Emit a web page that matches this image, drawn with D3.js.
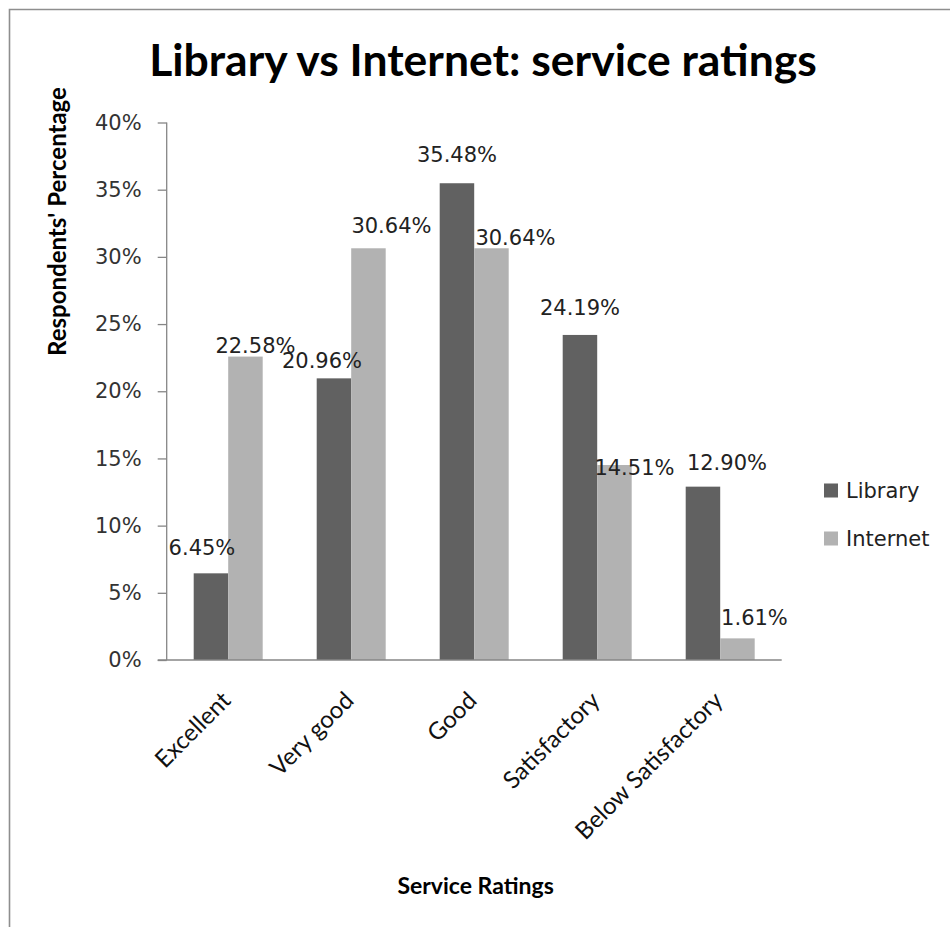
<!DOCTYPE html>
<html>
<head>
<meta charset="utf-8">
<script src="https://cdn.jsdelivr.net/npm/d3@7"></script>
<style>
  html, body { margin: 0; padding: 0; background: #fff; }
  svg { display: block; }
</style>
</head>
<body>
<svg id="chart" width="950" height="927"></svg>
<script>
// Service ratings: share of respondents per rating, library vs internet
const categories = ["Excellent", "Very good", "Good", "Satisfactory", "Below Satisfactory"];
const seriesNames = ["Library", "Internet"];
const libraryValues = [6.45, 20.96, 35.48, 24.19, 12.90];
const internetValues = [22.58, 30.64, 30.64, 14.51, 1.61];
const yTicks = [0, 5, 10, 15, 20, 25, 30, 35, 40];

// Hand-placed data-label nudges (px) relative to the top-centre of each bar
const libraryLabelNudge = [[-9, -18], [-12, -10], [0, -21], [0, -20], [24, -17]];
const internetLabelNudge = [[10, -4], [23, -15], [24, -3], [20, 10], [17, -13]];

const colors = { Library: "#616161", Internet: "#b2b2b2" };
const numFont = "'DejaVu Sans', Verdana, sans-serif";
const titleFont = "Lato, 'Open Sans', sans-serif";

const svg = d3.select("#chart");

// Outer frame (top and left edges visible)
svg.append("path")
  .attr("d", "M9.5,927 L9.5,9.5 L950,9.5")
  .attr("fill", "none")
  .attr("stroke", "#8e8e8e")
  .attr("stroke-width", 1.6);

const plot = { left: 166.7, right: 781.7, top: 122.5, bottom: 660 };

const x0 = d3.scaleBand().domain(categories).range([plot.left, plot.right]).padding(0);
const groupWidth = 69;
const x1 = d3.scaleBand().domain(seriesNames).range([0, groupWidth]).padding(0);
const y = d3.scaleLinear().domain([0, 40]).range([plot.bottom, plot.top]);

const rows = categories.map((c, i) => ({
  category: c,
  values: [
    { series: "Library", value: libraryValues[i], nudge: libraryLabelNudge[i] },
    { series: "Internet", value: internetValues[i], nudge: internetLabelNudge[i] }
  ]
}));

const groupX = c => x0(c) + (x0.bandwidth() - groupWidth) / 2;

// Bars
const groups = svg.append("g").selectAll("g")
  .data(rows).join("g")
  .attr("transform", d => `translate(${groupX(d.category)},0)`);

groups.selectAll("rect")
  .data(d => d.values).join("rect")
  .attr("x", d => x1(d.series))
  .attr("y", d => y(d.value))
  .attr("width", x1.bandwidth())
  .attr("height", d => y(0) - y(d.value))
  .attr("fill", d => colors[d.series]);

// Data labels
groups.selectAll("text")
  .data(d => d.values).join("text")
  .attr("x", d => x1(d.series) + x1.bandwidth() / 2 + d.nudge[0])
  .attr("y", d => y(d.value) + d.nudge[1])
  .attr("text-anchor", "middle")
  .attr("font-family", numFont)
  .attr("font-size", 21)
  .attr("fill", "#222")
  .text(d => d.value.toFixed(2) + "%");

// Y axis
const yAxis = d3.axisLeft(y)
  .tickValues(yTicks)
  .tickSize(9)
  .tickPadding(16)
  .tickFormat(d => d + "%");

const yg = svg.append("g")
  .attr("transform", `translate(${plot.left},0)`)
  .call(yAxis);
yg.select(".domain").attr("stroke", "#868686").attr("stroke-width", 1.3)
  .attr("d", `M0,${plot.top}V${plot.bottom}`);
yg.selectAll(".tick line").attr("stroke", "#868686").attr("stroke-width", 1.3);
yg.selectAll(".tick text")
  .attr("font-family", numFont)
  .attr("font-size", 21)
  .attr("fill", "#333");

// X axis
const xAxis = d3.axisBottom(x0).tickSize(0).tickFormat("");
const xg = svg.append("g")
  .attr("transform", `translate(0,${plot.bottom})`)
  .call(xAxis);
xg.select(".domain").attr("stroke", "#868686").attr("stroke-width", 1.3)
  .attr("d", `M${plot.left - 9},0H${plot.right}`);

// Rotated category labels
svg.append("g").selectAll("text")
  .data(categories).join("text")
  .attr("transform", c => `translate(${x0(c) + x0.bandwidth() / 2 + 4},${plot.bottom + 42}) rotate(-45)`)
  .attr("text-anchor", "end")
  .attr("font-family", titleFont)
  .attr("font-size", 24)
  .attr("fill", "#111")
  .text(c => c);

// Chart title, sized to span its slot across the top
const title = svg.append("text")
  .attr("x", 483)
  .attr("y", 76)
  .attr("text-anchor", "middle")
  .attr("font-family", titleFont)
  .attr("font-weight", "bold")
  .attr("font-size", 42)
  .attr("fill", "#000")
  .text("Library vs Internet: service ratings");
const titleLen = title.node().getComputedTextLength();
if (titleLen > 0) title.attr("font-size", 42 * 668 / titleLen);

// Axis titles
svg.append("text")
  .attr("transform", "translate(66,221.5) rotate(-90)")
  .attr("text-anchor", "middle")
  .attr("font-family", titleFont)
  .attr("font-weight", "bold")
  .attr("font-size", 24)
  .attr("fill", "#000")
  .text("Respondents' Percentage");

svg.append("text")
  .attr("x", 475.6)
  .attr("y", 893.5)
  .attr("text-anchor", "middle")
  .attr("font-family", titleFont)
  .attr("font-weight", "bold")
  .attr("font-size", 23)
  .attr("fill", "#000")
  .text("Service Ratings");

// Legend
const legend = svg.append("g").selectAll("g")
  .data(seriesNames).join("g")
  .attr("transform", (d, i) => `translate(824,${483.5 + i * 48})`);
legend.append("rect")
  .attr("width", 14).attr("height", 14)
  .attr("fill", d => colors[d]);
legend.append("text")
  .attr("x", 22).attr("y", 14)
  .attr("font-family", numFont)
  .attr("font-size", 21)
  .attr("fill", "#222")
  .text(d => d);
</script>
</body>
</html>
